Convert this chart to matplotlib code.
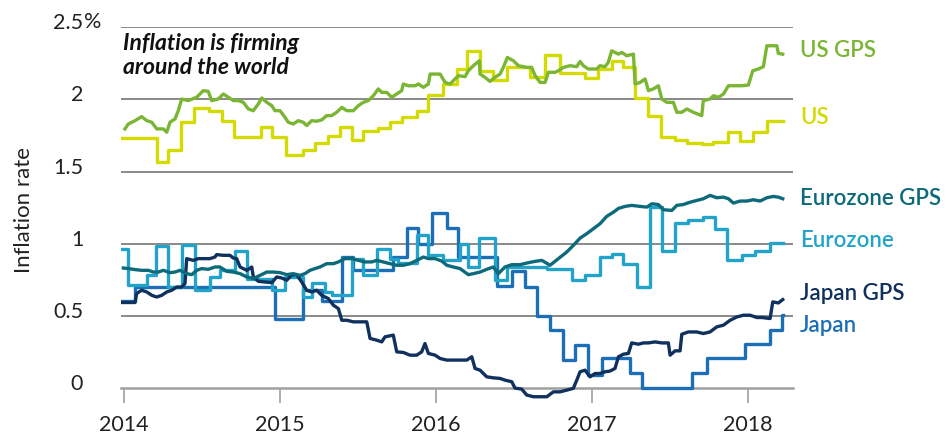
import matplotlib
matplotlib.use("Agg")
import matplotlib.pyplot as plt
from matplotlib.transforms import ScaledTranslation, blended_transform_factory

plt.rcParams['font.family'] = ['Lato', 'DejaVu Sans']

# ---- data (decimal years, inflation %) ----
end_year = 2018.224

us_x = [2013.989, 2014.210, 2014.284, 2014.363, 2014.449, 2014.547, 2014.626, 2014.705,
        2014.878, 2014.951, 2015.038, 2015.149, 2015.224, 2015.310, 2015.385, 2015.463,
        2015.534, 2015.630, 2015.705, 2015.784, 2015.876, 2015.951, 2016.047, 2016.133,
        2016.197, 2016.282, 2016.367, 2016.457, 2016.603, 2016.699, 2016.795, 2016.955,
        2017.040, 2017.126, 2017.201, 2017.276, 2017.361, 2017.440, 2017.532, 2017.607,
        2017.703, 2017.778, 2017.874, 2017.949, 2018.030, 2018.124]
us_y = [1.731, 1.565, 1.653, 1.846, 1.938, 1.922, 1.849, 1.738,
        1.812, 1.738, 1.618, 1.653, 1.701, 1.750, 1.807, 1.720,
        1.784, 1.803, 1.846, 1.881, 1.918, 2.030, 2.107, 2.211,
        2.337, 2.195, 2.135, 2.222, 2.158, 2.310, 2.181, 2.149,
        2.211, 2.268, 2.222, 2.010, 1.888, 1.743, 1.720, 1.699,
        1.692, 1.703, 1.777, 1.715, 1.773, 1.850]

us_gps_x = [2014.006, 2014.028, 2014.071, 2014.113, 2014.146, 2014.178, 2014.210, 2014.252,
            2014.274, 2014.295, 2014.327, 2014.348, 2014.370, 2014.412, 2014.466, 2014.508,
            2014.540, 2014.562, 2014.604, 2014.637, 2014.669, 2014.701, 2014.733, 2014.765,
            2014.797, 2014.829, 2014.861, 2014.883, 2014.915, 2014.947, 2014.968, 2015.000,
            2015.032, 2015.053, 2015.085, 2015.117, 2015.149, 2015.171, 2015.203, 2015.235,
            2015.267, 2015.299, 2015.331, 2015.363, 2015.396, 2015.428, 2015.470, 2015.502,
            2015.534, 2015.566, 2015.598, 2015.630, 2015.652, 2015.684, 2015.716, 2015.748,
            2015.780, 2015.790, 2015.822, 2015.865, 2015.887, 2015.919, 2015.951, 2015.962,
            2016.026, 2016.058, 2016.090, 2016.122, 2016.143, 2016.186, 2016.207, 2016.239,
            2016.278, 2016.282, 2016.314, 2016.346, 2016.378, 2016.410, 2016.431, 2016.457,
            2016.496, 2016.528, 2016.581, 2016.613, 2016.635, 2016.667, 2016.699, 2016.720,
            2016.763, 2016.784, 2016.816, 2016.859, 2016.902, 2016.923, 2016.944, 2016.976,
            2017.030, 2017.051, 2017.083, 2017.104, 2017.126, 2017.169, 2017.190, 2017.222,
            2017.265, 2017.276, 2017.308, 2017.340, 2017.361, 2017.393, 2017.425, 2017.447,
            2017.479, 2017.521, 2017.543, 2017.575, 2017.607, 2017.649, 2017.703, 2017.713,
            2017.756, 2017.778, 2017.810, 2017.842, 2017.874, 2017.917, 2017.960, 2018.002,
            2018.030, 2018.066, 2018.098, 2018.120, 2018.184, 2018.194, 2018.222]
us_gps_y = [1.796, 1.830, 1.853, 1.881, 1.853, 1.842, 1.796, 1.796,
            1.773, 1.842, 1.865, 1.922, 2.003, 1.992, 2.015, 2.061,
            2.056, 1.992, 2.003, 2.038, 2.015, 1.992, 1.992, 1.980,
            1.934, 1.922, 1.969, 2.010, 1.980, 1.957, 1.922, 1.922,
            1.876, 1.842, 1.830, 1.853, 1.842, 1.819, 1.853, 1.849,
            1.858, 1.888, 1.888, 1.911, 1.945, 1.922, 1.922, 1.957,
            1.980, 1.992, 2.026, 2.073, 2.049, 2.049, 2.015, 2.038,
            2.061, 2.107, 2.095, 2.095, 2.107, 2.084, 2.107, 2.176,
            2.176, 2.118, 2.107, 2.142, 2.165, 2.158, 2.199, 2.234,
            2.268, 2.176, 2.153, 2.125, 2.153, 2.176, 2.222, 2.291,
            2.268, 2.234, 2.222, 2.222, 2.165, 2.118, 2.118, 2.188,
            2.188, 2.199, 2.222, 2.234, 2.227, 2.263, 2.234, 2.211,
            2.211, 2.234, 2.227, 2.257, 2.337, 2.314, 2.326, 2.303,
            2.314, 2.107, 2.118, 2.142, 2.061, 2.073, 2.095, 2.003,
            1.980, 1.980, 1.911, 1.911, 1.934, 1.911, 1.888, 1.992,
            2.003, 2.026, 2.015, 2.038, 2.095, 2.095, 2.095, 2.100,
            2.199, 2.211, 2.227, 2.372, 2.372, 2.319, 2.314]

ez_x = [2013.987, 2014.026, 2014.146, 2014.203, 2014.280, 2014.370, 2014.455, 2014.551,
        2014.615, 2014.712, 2014.787, 2014.947, 2015.032, 2015.146, 2015.203, 2015.288,
        2015.331, 2015.460, 2015.534, 2015.620, 2015.705, 2015.756, 2015.876, 2015.951,
        2016.047, 2016.154, 2016.207, 2016.278, 2016.378, 2016.453, 2016.710, 2016.870,
        2016.955, 2017.051, 2017.126, 2017.201, 2017.287, 2017.372, 2017.447, 2017.532,
        2017.617, 2017.713, 2017.788, 2017.863, 2017.960, 2018.045, 2018.141]
ez_y = [0.966, 0.717, 0.786, 0.984, 0.701, 0.994, 0.678, 0.770,
        0.816, 0.947, 0.759, 0.678, 0.770, 0.631, 0.731, 0.666,
        0.643, 0.897, 0.781, 0.966, 0.897, 0.870, 1.063, 0.920,
        0.885, 1.000, 0.839, 1.039, 0.747, 0.839, 0.828, 0.747,
        0.781, 0.908, 0.927, 0.862, 0.701, 1.254, 0.947, 1.143,
        1.162, 1.185, 1.104, 0.889, 0.920, 0.950, 1.005]

ez_gps_x = [2013.996, 2014.028, 2014.071, 2014.113, 2014.156, 2014.188, 2014.220, 2014.252,
            2014.295, 2014.327, 2014.359, 2014.402, 2014.434, 2014.466, 2014.498, 2014.540,
            2014.583, 2014.615, 2014.658, 2014.701, 2014.744, 2014.787, 2014.829, 2014.872,
            2014.915, 2014.957, 2015.000, 2015.043, 2015.085, 2015.128, 2015.160, 2015.192,
            2015.224, 2015.256, 2015.299, 2015.342, 2015.374, 2015.417, 2015.460, 2015.502,
            2015.545, 2015.588, 2015.620, 2015.662, 2015.705, 2015.748, 2015.790, 2015.833,
            2015.876, 2015.919, 2015.951, 2015.994, 2016.037, 2016.069, 2016.111, 2016.154,
            2016.207, 2016.239, 2016.282, 2016.325, 2016.367, 2016.399, 2016.442, 2016.485,
            2016.538, 2016.592, 2016.635, 2016.678, 2016.731, 2016.784, 2016.838, 2016.880,
            2016.923, 2016.966, 2017.008, 2017.051, 2017.094, 2017.137, 2017.169, 2017.212,
            2017.254, 2017.308, 2017.351, 2017.383, 2017.425, 2017.457, 2017.511, 2017.543,
            2017.585, 2017.628, 2017.671, 2017.713, 2017.756, 2017.799, 2017.842, 2017.874,
            2017.906, 2017.949, 2017.992, 2018.034, 2018.077, 2018.120, 2018.162, 2018.194,
            2018.222]
ez_gps_y = [0.832, 0.828, 0.821, 0.816, 0.816, 0.804, 0.804, 0.816,
            0.800, 0.804, 0.816, 0.793, 0.786, 0.816, 0.828, 0.823,
            0.839, 0.839, 0.809, 0.804, 0.793, 0.770, 0.759, 0.781,
            0.804, 0.804, 0.800, 0.786, 0.793, 0.781, 0.793, 0.816,
            0.828, 0.839, 0.862, 0.862, 0.874, 0.897, 0.897, 0.885,
            0.874, 0.874, 0.885, 0.874, 0.862, 0.851, 0.851, 0.862,
            0.885, 0.908, 0.897, 0.897, 0.880, 0.851, 0.839, 0.828,
            0.786, 0.793, 0.804, 0.823, 0.839, 0.793, 0.839, 0.855,
            0.855, 0.869, 0.878, 0.885, 0.851, 0.897, 0.943, 0.989,
            1.039, 1.070, 1.104, 1.139, 1.190, 1.219, 1.245, 1.259,
            1.266, 1.259, 1.254, 1.277, 1.272, 1.236, 1.231, 1.266,
            1.272, 1.288, 1.300, 1.312, 1.335, 1.319, 1.323, 1.312,
            1.282, 1.296, 1.296, 1.305, 1.296, 1.319, 1.328, 1.323,
            1.312]

jp_x = [2013.987, 2014.071, 2014.968, 2015.149, 2015.267, 2015.396, 2015.470, 2015.726,
        2015.812, 2015.887, 2015.972, 2016.069, 2016.143, 2016.389, 2016.485, 2016.571,
        2016.646, 2016.731, 2016.816, 2016.891, 2016.976, 2017.062, 2017.244, 2017.319,
        2017.639, 2017.735, 2017.981, 2018.141, 2018.216]
jp_y = [0.600, 0.700, 0.480, 0.678, 0.600, 0.908, 0.820, 0.908,
        1.110, 1.000, 1.210, 1.110, 0.908, 0.710, 0.810, 0.700,
        0.500, 0.400, 0.194, 0.302, 0.090, 0.205, 0.106, 0.000,
        0.106, 0.205, 0.304, 0.401, 0.505]

jp_gps_x = [2013.987, 2014.071, 2014.081, 2014.113, 2014.146, 2014.178, 2014.210, 2014.242,
            2014.274, 2014.306, 2014.338, 2014.370, 2014.391, 2014.402, 2014.444, 2014.476,
            2014.508, 2014.551, 2014.583, 2014.594, 2014.637, 2014.679, 2014.701, 2014.722,
            2014.744, 2014.787, 2014.819, 2014.829, 2014.861, 2014.904, 2014.947, 2014.979,
            2015.011, 2015.043, 2015.075, 2015.107, 2015.139, 2015.171, 2015.203, 2015.235,
            2015.267, 2015.310, 2015.342, 2015.374, 2015.396, 2015.428, 2015.470, 2015.513,
            2015.556, 2015.577, 2015.620, 2015.652, 2015.673, 2015.726, 2015.748, 2015.790,
            2015.833, 2015.876, 2015.908, 2015.929, 2015.951, 2015.994, 2016.026, 2016.069,
            2016.111, 2016.154, 2016.197, 2016.229, 2016.250, 2016.282, 2016.325, 2016.367,
            2016.410, 2016.442, 2016.485, 2016.506, 2016.549, 2016.581, 2016.624, 2016.667,
            2016.710, 2016.752, 2016.795, 2016.838, 2016.880, 2016.902, 2016.923, 2016.955,
            2016.987, 2017.019, 2017.051, 2017.083, 2017.115, 2017.147, 2017.169, 2017.201,
            2017.233, 2017.254, 2017.297, 2017.329, 2017.361, 2017.404, 2017.447, 2017.489,
            2017.500, 2017.532, 2017.564, 2017.575, 2017.617, 2017.671, 2017.713, 2017.756,
            2017.799, 2017.842, 2017.885, 2017.928, 2017.970, 2018.013, 2018.056, 2018.088,
            2018.141, 2018.158, 2018.194, 2018.222]
jp_gps_y = [0.593, 0.593, 0.655, 0.678, 0.666, 0.643, 0.631, 0.643,
            0.666, 0.678, 0.700, 0.700, 0.724, 0.897, 0.885, 0.897,
            0.897, 0.897, 0.908, 0.925, 0.920, 0.920, 0.901, 0.897,
            0.839, 0.816, 0.839, 0.770, 0.740, 0.735, 0.731, 0.770,
            0.763, 0.747, 0.785, 0.786, 0.735, 0.678, 0.666, 0.678,
            0.643, 0.620, 0.574, 0.551, 0.470, 0.470, 0.459, 0.459,
            0.459, 0.344, 0.332, 0.320, 0.355, 0.367, 0.251, 0.247,
            0.228, 0.228, 0.251, 0.309, 0.240, 0.228, 0.205, 0.194,
            0.194, 0.194, 0.194, 0.217, 0.136, 0.124, 0.078, 0.071,
            0.067, 0.055, 0.044, 0.000, -0.007, -0.048, -0.060, -0.060,
            -0.060, -0.026, -0.026, -0.014, -0.002, 0.055, 0.113, 0.124,
            0.078, 0.101, 0.101, 0.113, 0.118, 0.136, 0.217, 0.235,
            0.240, 0.313, 0.304, 0.313, 0.313, 0.320, 0.313, 0.313,
            0.228, 0.258, 0.258, 0.373, 0.389, 0.389, 0.378, 0.389,
            0.424, 0.436, 0.470, 0.493, 0.505, 0.505, 0.489, 0.489,
            0.482, 0.597, 0.590, 0.613]

years = [2014, 2015, 2016, 2017, 2018]
y_ticks = [0, 0.5, 1, 1.5, 2, 2.5]
y_tick_labels = ['0', '0.5', '1', '1.5', '2', '2.5']

c_us_gps = '#7ab533'
c_us = '#d4db00'
c_ez_gps = '#0c6a7b'
c_ez = '#22a3c9'
c_jp_gps = '#10305e'
c_jp = '#1c6fb6'

fig = plt.figure(figsize=(9.46, 4.36), dpi=100)
ax = fig.add_axes([0.1276, 0.0768, 0.7107, 0.8606])
ax.set_xlim(2013.979, 2018.288)
ax.set_ylim(-0.1, 2.5)

for v in y_ticks[1:]:
    ax.axhline(v, color='#6a6a6a', lw=1.1, zorder=1)

lw = 2.4
ax.step(jp_x + [end_year], jp_y + [jp_y[-1]], where='post', color=c_jp, lw=lw, zorder=2)
ax.step(ez_x + [end_year], ez_y + [ez_y[-1]], where='post', color=c_ez, lw=lw, zorder=3)
ax.step(us_x + [end_year], us_y + [us_y[-1]], where='post', color=c_us, lw=lw, zorder=3)
ax.plot(jp_gps_x, jp_gps_y, color=c_jp_gps, lw=lw, zorder=4)
ax.plot(ez_gps_x, ez_gps_y, color=c_ez_gps, lw=lw, zorder=4)
ax.plot(us_gps_x, us_gps_y, color=c_us_gps, lw=lw, zorder=4)

for s in ['left', 'right', 'top']:
    ax.spines[s].set_visible(False)
ax.spines['bottom'].set_position(('data', 0))
ax.spines['bottom'].set_color('#a0a0a0')
ax.spines['bottom'].set_linewidth(1.8)
ax.spines['bottom'].set_zorder(1)

ax.set_xticks(years)
ax.set_xticklabels([str(y) for y in years])
ax.tick_params(axis='x', direction='out', length=10.5, width=1.2, color='#a0a0a0',
               pad=9, labelsize=15.5, labelcolor='#222222')

ax.set_yticks(y_ticks)
ax.set_yticklabels(y_tick_labels)
ax.tick_params(axis='y', length=0, pad=27, labelsize=15.5, labelcolor='#222222')
up = ScaledTranslation(0, 6 / 100, fig.dpi_scale_trans)
for lab in ax.get_yticklabels():
    lab.set_transform(lab.get_transform() + up)
fig.text(83.5 / 946, 1 - 22 / 436, '%', fontsize=15.5, color='#222222', ha='left', va='center')

fig.text(24 / 946, 1 - 210 / 436, 'Inflation rate', rotation=90, fontsize=16,
         color='#222222', ha='center', va='center')

fig.text(123 / 946, 1 - 33 / 436, 'Inflation is firming\naround the world', fontsize=16.5,
         fontweight='bold', style='italic', color='#111111', ha='left', va='top', linespacing=1.15)

trans = blended_transform_factory(ax.transAxes, ax.transData)
labels = [('US GPS', 2.337, c_us_gps), ('US', 1.876, c_us),
          ('Eurozone GPS', 1.312, c_ez_gps), ('Eurozone', 1.023, c_ez),
          ('Japan GPS', 0.655, c_jp_gps), ('Japan', 0.436, c_jp)]
for name, yv, col in labels:
    ax.text(1.0104, yv, name, transform=trans, color=col, fontsize=16,
            fontweight='semibold', ha='left', va='center', clip_on=False)

fig.savefig('out.png', dpi=100)
